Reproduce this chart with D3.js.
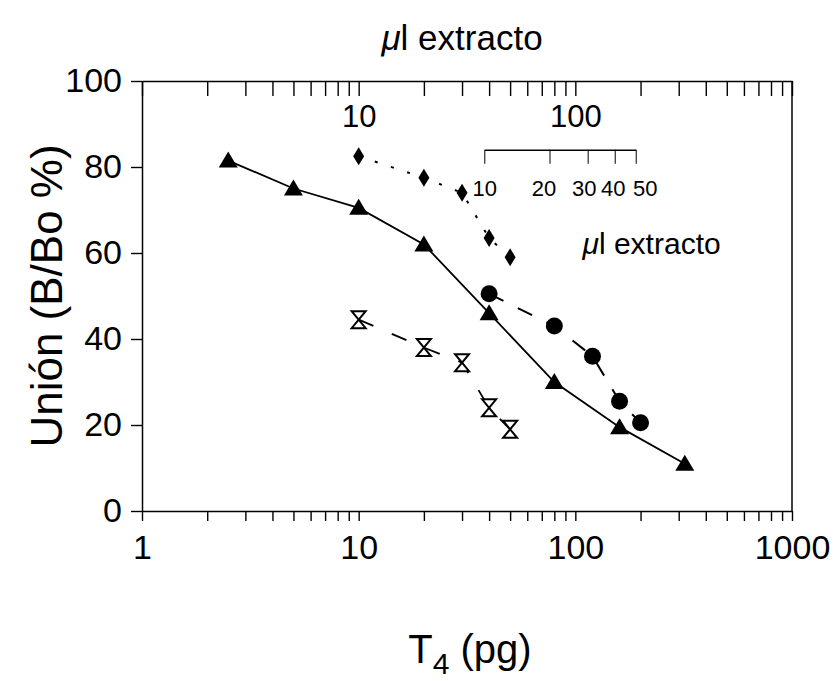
<!DOCTYPE html>
<html>
<head>
<meta charset="utf-8">
<script src="https://cdn.jsdelivr.net/npm/d3@7"></script>
<style>
  body { margin: 0; background: #fff; }
  text { font-family: "Liberation Sans", Arial, sans-serif; fill: #000; font-weight: normal; }
</style>
</head>
<body>
<div id="chart"></div>
<script>
// Unión (B/Bo %) frente a T4 (pg), escala log

// triángulos, línea continua
const triT4 = [2.5, 5, 10, 20, 40, 80, 160, 320];
const triB  = [81.5, 75, 70.5, 62, 46, 30, 19.5, 11];
// rombos, línea punteada
const diaT4 = [10, 20, 30, 40, 50];
const diaB  = [82.5, 77.5, 74, 63.5, 59];
// círculos, línea discontinua
const cirT4 = [40, 80, 120, 160, 200];
const cirB  = [50.5, 43, 36, 25.5, 20.5];
// relojes de arena, discontinua
const hgT4 = [10, 20, 30, 40, 50];
const hgB  = [44.5, 38, 34.5, 24, 19];

const xTickLabels = [1, 10, 100, 1000];
const topTickLabels = [10, 100];
const yTicks = [0, 20, 40, 60, 80, 100];
const ulTicks = [10, 20, 30, 40, 50];
const ulToPg = 3.8; // 10 µl del eje interno cae sobre ~38 pg

const W = 840, H = 681;
const margin = { top: 81, right: 48, bottom: 170, left: 142 };

const svg = d3.select("#chart").append("svg")
    .attr("width", W)
    .attr("height", H);

const x = d3.scaleLog().domain([1, 1000]).range([margin.left, W - margin.right]);
const y = d3.scaleLinear().domain([0, 100]).range([H - margin.bottom, margin.top]);

// todas las marcas menores 1..1000
const logTicks = [];
for (let p = 1; p <= 100; p *= 10) {
    for (let k = 1; k < 10; k++) logTicks.push(k * p);
}
logTicks.push(1000);

const fmtSome = list => d => list.includes(d) ? d3.format("d")(d) : "";

// eje inferior
const gx = svg.append("g")
    .attr("transform", `translate(0,${y(0)})`)
    .call(d3.axisBottom(x).tickValues(logTicks).tickFormat(fmtSome(xTickLabels))
        .tickSize(10).tickSizeOuter(0).tickPadding(14));
gx.selectAll("text").style("font-size", "34px");

// eje superior (marcas hacia dentro)
const gt = svg.append("g")
    .attr("transform", `translate(0,${y(100)})`)
    .call(d3.axisBottom(x).tickValues(logTicks).tickFormat(fmtSome(topTickLabels))
        .tickSize(15).tickSizeOuter(0).tickPadding(9));
gt.selectAll("text").style("font-size", "31px");

// eje izquierdo
const gy = svg.append("g")
    .attr("transform", `translate(${x(1)},0)`)
    .call(d3.axisLeft(y).tickValues(yTicks).tickSize(11).tickSizeOuter(0).tickPadding(9));
gy.selectAll("text").style("font-size", "34px");

// borde derecho
svg.append("line")
    .attr("x1", x(1000)).attr("x2", x(1000))
    .attr("y1", y(0)).attr("y2", y(100))
    .attr("stroke", "#000").attr("stroke-width", 1.5);

svg.selectAll(".domain").attr("stroke-width", 1.5);
svg.selectAll(".tick line").attr("stroke-width", 1.4);

// eje interno de µl extracto
const ul = d3.scaleLog().domain([10, 50]).range([x(10 * ulToPg), x(50 * ulToPg)]);
const ulNudge = { 10: 0, 20: -6, 30: -4, 40: -2, 50: 9 }; // etiquetas apretadas
const gu = svg.append("g")
    .attr("transform", `translate(0,${y(84)})`)
    .call(d3.axisBottom(ul).tickValues(ulTicks).tickFormat(d3.format("d"))
        .tickSize(14).tickSizeOuter(0).tickPadding(17));
gu.selectAll("text")
    .style("font-size", "22px")
    .attr("dx", d => ulNudge[d]);
gu.select(".domain").attr("stroke-width", 1.4);

const ulLabel = svg.append("text")
    .attr("x", ul(20) + 33)
    .attr("y", y(60) + 1)
    .style("font-size", "30px");
ulLabel.append("tspan").style("font-style", "italic").text("μ");
ulLabel.append("tspan").text("l extracto");

// líneas
const line = (xs, ys) => d3.line()(xs.map((v, i) => [x(v), y(ys[i])]));

svg.append("path").attr("d", line(triT4, triB))
    .attr("fill", "none").attr("stroke", "#000").attr("stroke-width", 1.8);
svg.append("path").attr("d", line(diaT4, diaB))
    .attr("fill", "none").attr("stroke", "#000").attr("stroke-width", 2)
    .attr("stroke-dasharray", "3,14");
svg.append("path").attr("d", line(cirT4, cirB))
    .attr("fill", "none").attr("stroke", "#000").attr("stroke-width", 2)
    .attr("stroke-dasharray", "16,16");
svg.append("path").attr("d", line(hgT4, hgB))
    .attr("fill", "none").attr("stroke", "#000").attr("stroke-width", 1.8)
    .attr("stroke-dasharray", "16,20");

// marcadores
const pts = (xs, ys) => xs.map((v, i) => ({ t: v, b: ys[i] }));

svg.selectAll(".tri").data(pts(triT4, triB)).join("path")
    .attr("class", "tri")
    .attr("transform", d => `translate(${x(d.t)},${y(d.b)})`)
    .attr("d", "M0,-9L9.5,7L-9.5,7Z")
    .attr("fill", "#000");

svg.selectAll(".dia").data(pts(diaT4, diaB)).join("path")
    .attr("class", "dia")
    .attr("transform", d => `translate(${x(d.t)},${y(d.b)})`)
    .attr("d", "M0,-9L5.5,0L0,9L-5.5,0Z")
    .attr("fill", "#000");

svg.selectAll(".cir").data(pts(cirT4, cirB)).join("circle")
    .attr("class", "cir")
    .attr("cx", d => x(d.t)).attr("cy", d => y(d.b))
    .attr("r", 8.5)
    .attr("fill", "#000");

svg.selectAll(".hg").data(pts(hgT4, hgB)).join("path")
    .attr("class", "hg")
    .attr("transform", d => `translate(${x(d.t)},${y(d.b)})`)
    .attr("d", "M-7,-8.5H7L-7,8.5H7Z")
    .attr("fill", "#fff").attr("stroke", "#000").attr("stroke-width", 2);

// títulos
const topTitle = svg.append("text")
    .attr("x", 462).attr("y", 50)
    .attr("text-anchor", "middle")
    .style("font-size", "35px");
topTitle.append("tspan").style("font-style", "italic").text("μ");
topTitle.append("tspan").text("l extracto");

svg.append("text")
    .attr("transform", `translate(62,${(y(0) + y(100)) / 2}) rotate(-90)`)
    .attr("text-anchor", "middle")
    .style("font-size", "44px")
    .text("Unión (B/Bo %)");

const xTitle = svg.append("text")
    .attr("x", 470).attr("y", 663)
    .attr("text-anchor", "middle")
    .style("font-size", "40px");
xTitle.append("tspan").text("T");
xTitle.append("tspan").attr("dy", 11).style("font-size", "30px").text("4");
xTitle.append("tspan").attr("dy", -11).text(" (pg)");
</script>
</body>
</html>
